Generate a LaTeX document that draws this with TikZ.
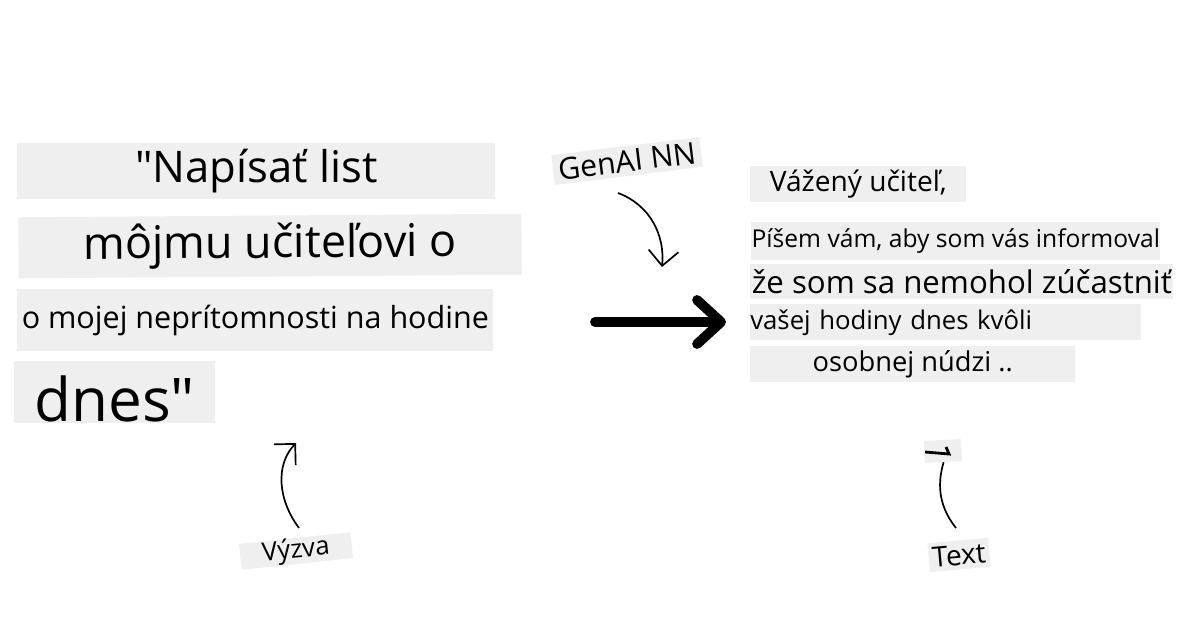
\documentclass[tikz,border=0pt]{standalone}
\usepackage{fontspec}
\setmainfont{Open Sans}[Ligatures=TeXOff]
\usetikzlibrary{arrows.meta}
\usetikzlibrary{positioning}
\usepackage{xcolor}
\definecolor{patchgray}{HTML}{EFEFEF}

\begin{document}
\begin{tikzpicture}[x=0.025cm, y=-0.025cm,
		patch/.style={fill=patchgray, inner sep=0pt, anchor=north west},
		tag/.style={fill=patchgray, inner sep=0pt, font=\fontsize{18.3}{20}\selectfont},
		curl/.style={line width=1.2pt, -{Straight Barb[length=0.375cm, width=0.75cm]}}]
		\useasboundingbox (0,0) rectangle (1200,628);
		
		\begin{scope}
			% prompt
			\node[patch, minimum width=11.95cm, minimum height=1.4cm, font=\fontsize{31}{32}\selectfont] (p1) at (17,143) {"Napísať list};
			\node[patch, rotate=0.4, minimum width=12.575cm, minimum height=1.525cm, font=\fontsize{32}{34}\selectfont] (p2) at (18,217) {môjmu učiteľovi o};
			\node[patch, minimum width=11.9cm, minimum height=1.55cm, font=\fontsize{21.7}{23}\selectfont] (p3) at (17,289) {o mojej neprítomnosti na hodine};
			\node[patch, anchor=south west, minimum width=5.025cm, inner ysep=0.02cm, text height=1.5cm, text depth=0pt, font=\fontsize{42.8}{44}\selectfont] (p4) at (14,423) {dnes"};
			\node[tag, rotate=6, minimum width=2.8cm, minimum height=0.65cm] (vyzva) at (296,551) {Výzva};
			\coordinate (vyS) at (299,528);
			\coordinate (vyE) at (296,443);
			\draw[curl] (vyS) .. controls +(-21,-28) and +(-21,22) .. (vyE);
		\end{scope}
		
		\begin{scope}
			% model
			\node[tag, rotate=7, minimum width=3.725cm, minimum height=0.75cm, font=\fontsize{21.5}{22}\selectfont] (gen) at (627,161) {GenAI NN};
			\coordinate (genS) at (618,193);
			\coordinate (genE) at (662,267);
			\draw[curl] (genS) .. controls +(32,12) and +(3,-32) .. (genE);
			\coordinate (bigS) at (595,322);
			\coordinate (bigE) at (726,322);
			\draw[line width=7pt, line cap=round, -{Straight Barb[length=0.6cm, width=1.1cm, round]}] (bigS) -- (bigE);
		\end{scope}
		
		\begin{scope}
			% answer
			\node[patch, minimum width=5.4cm, minimum height=0.9cm, font=\fontsize{20}{22}\selectfont] (r1) at (750,166) {Vážený učiteľ,};
			\node[patch, minimum width=10.225cm, minimum height=0.95cm, font=\fontsize{17.5}{19}\selectfont] (r2) at (751,222) {Píšem vám, aby som vás informoval};
			\node[patch, minimum width=10.575cm, minimum height=0.875cm, font=\fontsize{22.2}{24}\selectfont] (r3) at (750,264) {že som sa nemohol zúčastniť};
			\node[patch, text width=9.775cm, align=left, minimum height=0.9cm, font=\fontsize{18.3}{20}\selectfont] (r4) at (750,304) {vašej hodiny dnes kvôli};
			\node[patch, minimum width=8.125cm, minimum height=0.9cm, font=\fontsize{19.4}{21}\selectfont] (r5) at (750,346) {osobnej núdzi ..};
			\node[tag, rotate=5, minimum width=1.525cm, minimum height=0.725cm, font=\fontsize{20}{22}\selectfont] (txt) at (959,555) {Text};
			\node[tag, rotate=3, minimum width=0.925cm, minimum height=0.55cm] (tip) at (943,451) {};
			\coordinate (txS) at (956,528);
			\draw[line width=1.2pt] (txS) .. controls +(-20,-25) and +(-5,17) .. (tip.south);
			\draw[line width=2pt] (925,452) -- (949,454) -- (946,447);
		\end{scope}
	\end{tikzpicture}
\end{document}
